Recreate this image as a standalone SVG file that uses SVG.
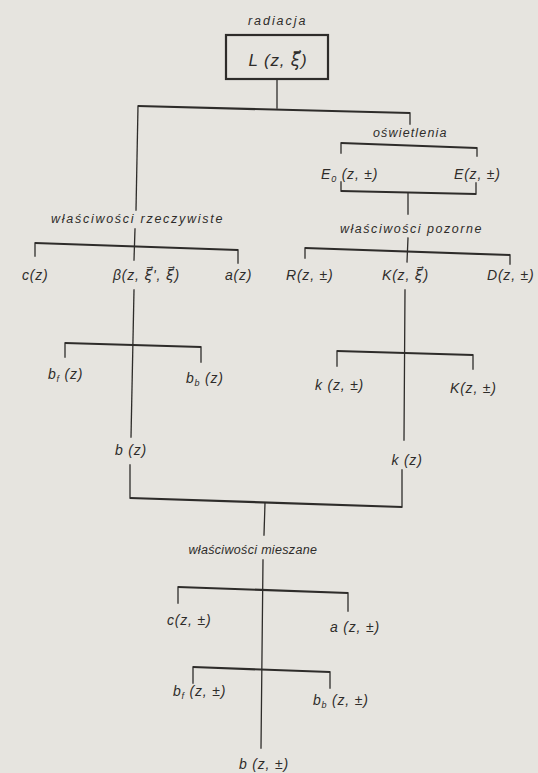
<svg xmlns="http://www.w3.org/2000/svg" width="538" height="773" viewBox="0 0 538 773">
<style>
.bg{fill:#e6e4df}
.ln{stroke:#2e2c2a;stroke-width:1.3;fill:none;stroke-linecap:square}
.bar{stroke:#2e2c2a;stroke-width:2.2;fill:none}
.box{stroke:#2e2c2a;stroke-width:2.2;fill:none}
text{font-family:"Liberation Sans","DejaVu Sans",sans-serif;font-style:italic;fill:#2e2c2a}
.lab{font-size:12.5px;letter-spacing:0.6px}
.f{font-size:14px;letter-spacing:0.8px}
.sub{font-size:9px}
</style>
<rect class="bg" x="0" y="0" width="538" height="773"/>
<g id="connectors">
<line class="ln" x1="277" y1="79" x2="277" y2="108"/>
<line class="bar" x1="138" y1="106" x2="410" y2="113"/>
<line class="ln" x1="410" y1="113" x2="410" y2="124"/>
<line class="bar" x1="341" y1="143" x2="477" y2="148"/>
<line class="ln" x1="341" y1="143" x2="341" y2="153"/>
<line class="ln" x1="477" y1="148" x2="477" y2="156"/>
<line class="bar" x1="341" y1="191" x2="476" y2="194"/>
<line class="ln" x1="341" y1="182" x2="341" y2="191"/>
<line class="ln" x1="476" y1="183" x2="476" y2="194"/>
<line class="ln" x1="408" y1="193" x2="408" y2="214"/>
<line class="ln" x1="408" y1="238" x2="407" y2="262"/>
<line class="bar" x1="305" y1="248" x2="510" y2="255"/>
<line class="ln" x1="305" y1="248" x2="305" y2="258"/>
<line class="ln" x1="510" y1="255" x2="510" y2="264"/>
<line class="ln" x1="138" y1="106" x2="136" y2="210"/>
<line class="ln" x1="135" y1="229" x2="134" y2="260"/>
<line class="bar" x1="35" y1="243" x2="238" y2="250"/>
<line class="ln" x1="35" y1="243" x2="35" y2="256"/>
<line class="ln" x1="238" y1="250" x2="238" y2="263"/>
<line class="ln" x1="134" y1="290" x2="131" y2="437"/>
<line class="bar" x1="65" y1="343" x2="201" y2="347"/>
<line class="ln" x1="65" y1="343" x2="65" y2="357"/>
<line class="ln" x1="201" y1="347" x2="201" y2="362"/>
<line class="ln" x1="130" y1="465" x2="130" y2="498"/>
<line class="ln" x1="405" y1="290" x2="404" y2="440"/>
<line class="bar" x1="337" y1="351" x2="473" y2="355"/>
<line class="ln" x1="337" y1="351" x2="337" y2="366"/>
<line class="ln" x1="473" y1="355" x2="473" y2="369"/>
<line class="ln" x1="402" y1="470" x2="402" y2="507"/>
<line class="bar" x1="130" y1="498" x2="402" y2="507"/>
<line class="ln" x1="265" y1="503" x2="264" y2="535"/>
<line class="ln" x1="263" y1="560" x2="261" y2="748"/>
<line class="bar" x1="178" y1="587" x2="348" y2="593"/>
<line class="ln" x1="178" y1="587" x2="178" y2="603"/>
<line class="ln" x1="348" y1="593" x2="348" y2="611"/>
<line class="bar" x1="193" y1="667" x2="330" y2="672"/>
<line class="ln" x1="193" y1="667" x2="193" y2="683"/>
<line class="ln" x1="330" y1="672" x2="330" y2="688"/>
</g>
<g id="radiacja"><text class="lab" x="277" y="25" text-anchor="middle" textLength="58" lengthAdjust="spacing">radiacja</text>
<rect class="box" x="226" y="35" width="102" height="44"/>
<text class="f" x="278" y="66" text-anchor="middle" style="font-size:17px">L (z, ξ⃗)</text></g>
<g id="oswietlenia"><text class="lab" x="410" y="137" text-anchor="middle" textLength="74" lengthAdjust="spacing">oświetlenia</text></g>
<g id="E0"><text class="f" x="321" y="179">E<tspan class="sub" dy="3">0</tspan><tspan dy="-3"> (z, ±)</tspan></text></g>
<g id="E"><text class="f" x="454" y="179">E(z, ±)</text></g>
<g id="wl-pozorne"><text class="lab" x="411" y="233" text-anchor="middle" textLength="142" lengthAdjust="spacing">właściwości pozorne</text></g>
<g id="R"><text class="f" x="286" y="280">R(z, ±)</text></g>
<g id="K"><text class="f" x="382" y="280">K(z, ξ⃗)</text></g>
<g id="D"><text class="f" x="487" y="280">D(z, ±)</text></g>
<g id="wl-rzeczywiste"><text class="lab" x="137" y="223" text-anchor="middle" textLength="172" lengthAdjust="spacing">właściwości rzeczywiste</text></g>
<g id="c"><text class="f" x="22" y="280">c(z)</text></g>
<g id="beta"><text class="f" x="113" y="280">β(z, ξ⃗', ξ⃗)</text></g>
<g id="a"><text class="f" x="225" y="280">a(z)</text></g>
<g id="bf"><text class="f" x="48" y="379">b<tspan class="sub" dy="3">f</tspan><tspan dy="-3"> (z)</tspan></text></g>
<g id="bb"><text class="f" x="186" y="383">b<tspan class="sub" dy="3">b</tspan><tspan dy="-3"> (z)</tspan></text></g>
<g id="b"><text class="f" x="131" y="455" text-anchor="middle">b (z)</text></g>
<g id="k-zpm"><text class="f" x="315" y="390">k (z, ±)</text></g>
<g id="K-zpm"><text class="f" x="450" y="393">K(z, ±)</text></g>
<g id="k"><text class="f" x="407" y="465" text-anchor="middle">k (z)</text></g>
<g id="wl-mieszane"><text class="lab" x="253" y="554" text-anchor="middle" textLength="129" lengthAdjust="spacing">właściwości mieszane</text></g>
<g id="c-zpm"><text class="f" x="167" y="625">c(z, ±)</text></g>
<g id="a-zpm"><text class="f" x="330" y="632">a (z, ±)</text></g>
<g id="bf-zpm"><text class="f" x="173" y="696">b<tspan class="sub" dy="3">f</tspan><tspan dy="-3"> (z, ±)</tspan></text></g>
<g id="bb-zpm"><text class="f" x="313" y="705">b<tspan class="sub" dy="3">b</tspan><tspan dy="-3"> (z, ±)</tspan></text></g>
<g id="b-zpm"><text class="f" x="264" y="769" text-anchor="middle">b (z, ±)</text></g>
</svg>
